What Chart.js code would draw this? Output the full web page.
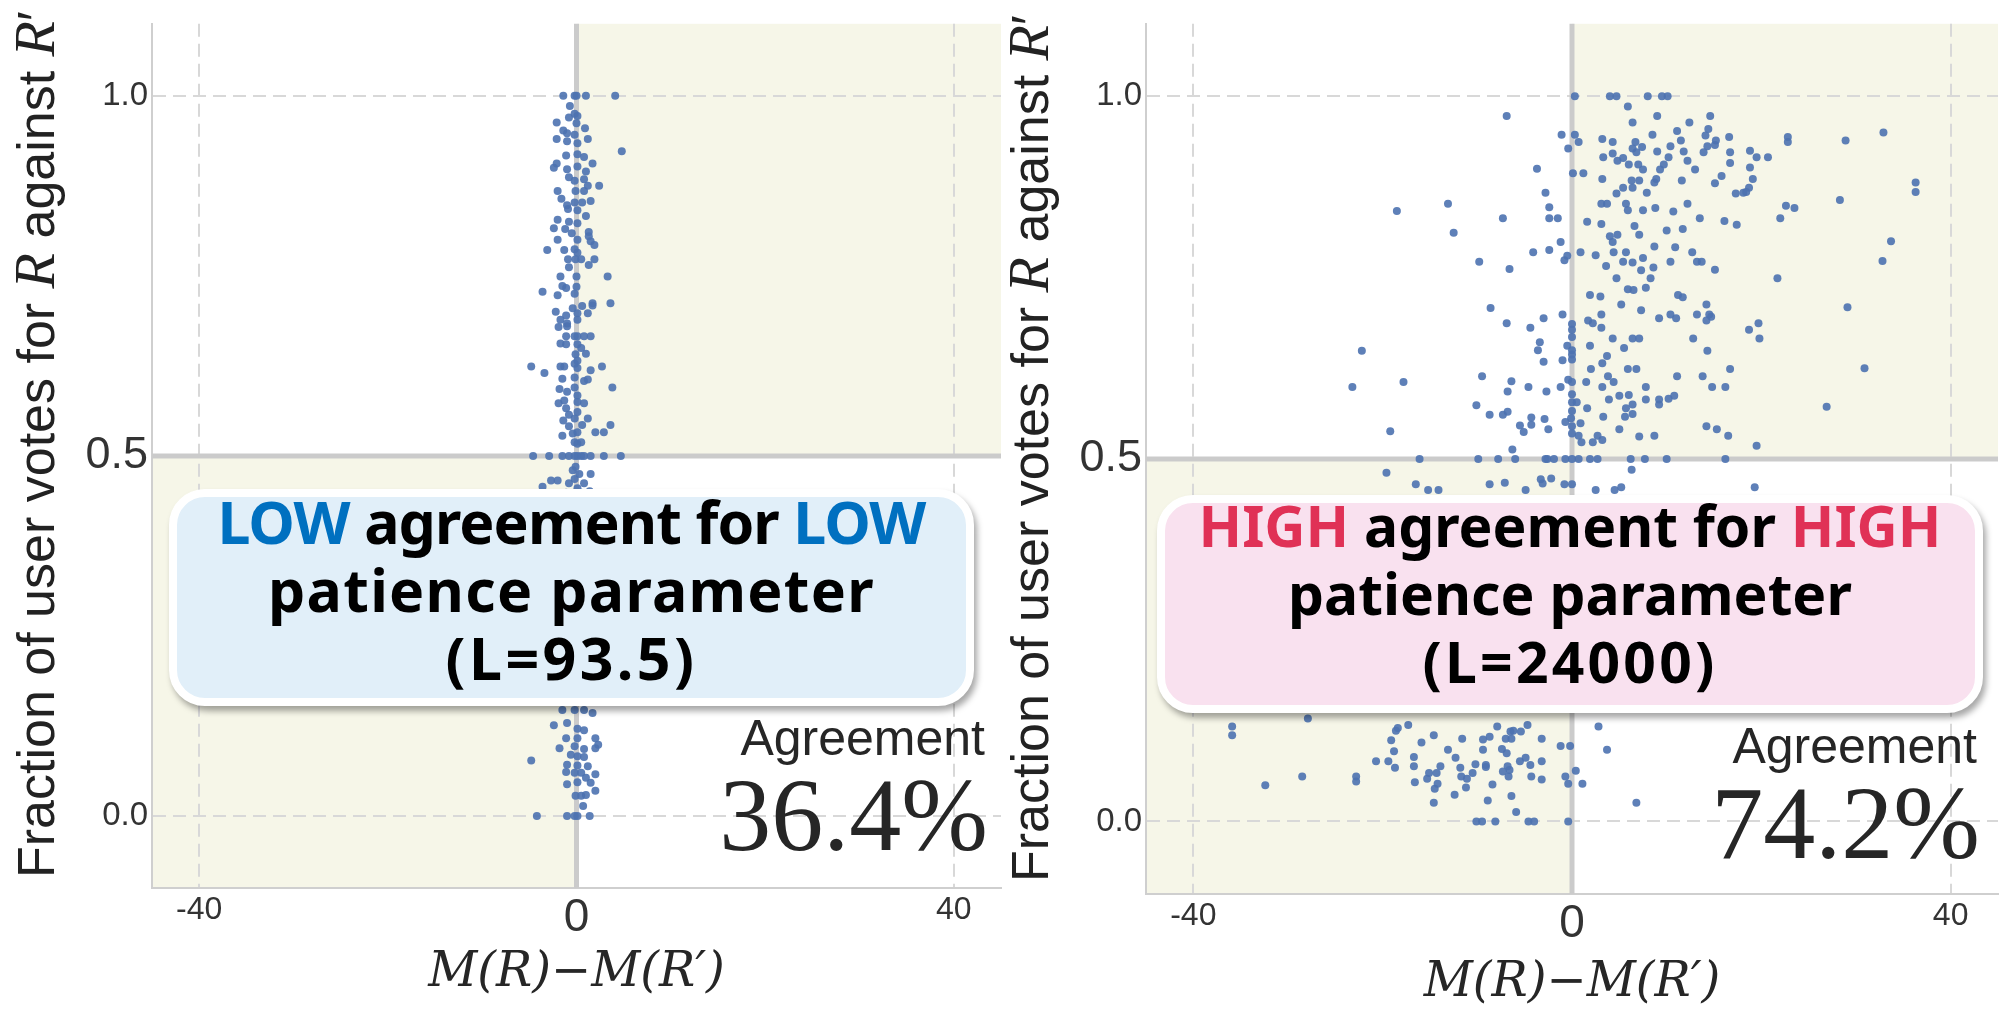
<!DOCTYPE html>
<html>
<head>
<meta charset="utf-8">
<script src="https://cdn.jsdelivr.net/npm/chart.js@4.4.0/dist/chart.umd.min.js"></script>
<style>
body { margin: 0; background: #fff; width: 2003px; height: 1012px; position: relative; overflow: hidden; }
canvas { position: absolute; top: 0; }
.ytitle { position: absolute; transform-origin: 0 0; transform: rotate(-90deg); white-space: nowrap;
          font: 52px/52px "Liberation Sans"; color: #222; }
.ytitle i { font-family: "Liberation Serif"; font-size: 58px; }
.box { position: absolute; box-sizing: border-box; border: 8px solid #fff; border-radius: 36px;
       box-shadow: 3px 5px 6px rgba(0,0,0,.35); }
.boxtext { position: absolute; text-align: center; font: 700 57px/68px "Noto Sans"; color: #000; }
.agree { position: absolute; width: 300px; text-align: right; font: 50px/50px "Liberation Sans"; color: #262626; }
.pct { position: absolute; width: 400px; text-align: right; font: 104px/104px "Liberation Serif"; color: #262626; }
</style>
</head>
<body>
<canvas id="lowChart" width="1005" height="1012" style="left:0px"></canvas>
<canvas id="highChart" width="998" height="1012" style="left:1005px"></canvas>

<div class="ytitle" style="left:9px; top:878px">Fraction of user votes for <i>R</i> against <i>R</i>&prime;</div>
<div class="ytitle" style="left:1003px; top:882px">Fraction of user votes for <i>R</i> against <i>R</i>&prime;</div>

<div class="box" style="left:169px; top:489px; width:805px; height:217px; background:#e1eff9"></div>
<div class="boxtext" style="left:169px; top:487px; width:805px; font-size:59px">
  <span style="letter-spacing:-0.9px"><span style="color:#0070c0">LOW</span> agreement for <span style="color:#0070c0">LOW</span></span><br>
  <span style="letter-spacing:1.3px">patience parameter</span><br>
  <span id="lowL" style="letter-spacing:3.4px"></span>
</div>
<div class="box" style="left:1157px; top:495px; width:826px; height:218px; background:#f9e1ef"></div>
<div class="boxtext" style="left:1157px; top:491px; width:826px">
  <span style="color:#e03156">HIGH</span> agreement for <span style="color:#e03156">HIGH</span><br>
  patience parameter<br>
  <span id="highL" style="letter-spacing:3.2px"></span>
</div>

<div class="agree" style="left:685px; top:713px">Agreement</div>
<div class="pct" id="lowPct" style="left:588px; top:763px"></div>
<div class="agree" style="left:1677px; top:721px">Agreement</div>
<div class="pct" id="highPct" style="left:1580px; top:771px"></div>

<script>
// tick positions shared by both panels
var xTicks = [-40, 0, 40];
var yTicks = [0, 0.5, 1.0];

// patience parameter and agreement of each panel
var lowParam = 93.5, lowAgreement = 36.4;
var highParam = 24000, highAgreement = 74.2;

// [M(R)-M(R'), fraction of votes for R] , L = 93.5
var lowPoints = [
  [-1.4,1],[-0.2,1],[0,1],[1,1],[4.1,1],[-0.7,.986],[-0.8,.97],[-0.2,.975],[0.1,.972],
  [-2.1,.963],[0,.962],[-1.4,.952],[0.9,.955],[-1.0,.948],[-0.2,.946],[-2.1,.94],[-1.0,.937],[1.2,.94],[0.1,.934],
  [4.8,.923],[-1.1,.917],[0.1,.919],[0.8,.915],[1.7,.906],[-2.1,.906],[-2.4,.9],[-1.0,.898],[0.1,.902],[1.0,.895],
  [-0.8,.887],[-0.2,.882],[0.8,.884],[2.4,.875],[1.2,.875],[-2.0,.868],[-0.1,.868],[0.8,.868],
  [-1.6,.857],[-1.0,.848],[-0.2,.852],[0.6,.852],[1.5,.854],[-0.9,.843],[0.1,.841],[1.0,.833],
  [-2.0,.828],[-0.8,.825],[0.1,.823],[-2.4,.816],[-1.2,.815],[-0.5,.809],[1.3,.811],[1.3,.805],
  [-2.0,.8],[0.1,.8],[1.5,.798],[1.9,.793],[-3.1,.786],[-1.3,.786],[-0.2,.787],[0.1,.782],
  [-0.9,.773],[-0.1,.773],[0.5,.773],[1.3,.765],[1.9,.773],[-0.8,.762],[3.3,.749],[-1.7,.749],[0,.749],
  [-1.5,.736],[-1.1,.733],[0,.735],[-3.6,.728],[-2.0,.723],[-0.2,.725],[1.7,.712],[3.6,.712],[0.6,.708],[-0.4,.705],
  [-2.2,.7],[-1.1,.695],[0.1,.698],[1.2,.698],[1.7,.709],[-1.7,.689],[-1.0,.684],[0.1,.689],[-1.9,.679],[-1.0,.68],
  [-1.1,.666],[-0.2,.666],[0.1,.666],[0.8,.666],[1.5,.666],[-1.7,.656],[-1.1,.655],[0.1,.655],[0.5,.65],
  [-0.1,.641],[1.0,.642],[0.1,.632],[-0.2,.628],
  [-4.8,.624],[-3.4,.615],[-1.7,.624],[-1.3,.624],[0.1,.622],[1.5,.619],[2.7,.624],
  [-1.5,.607],[-0.2,.609],[0.8,.604],[1.2,.606],[-1.8,.593],[-0.2,.595],[3.8,.595],[0.1,.584],[-1.0,.589],
  [-1.9,.573],[-1.3,.577],[0.1,.575],[0.8,.573],[-1.1,.566],[0.1,.561],[-0.8,.557],
  [-0.2,.552],[1.2,.552],[-1.4,.549],[-0.8,.541],[0.6,.543],[3.6,.543],
  [-1.5,.528],[-0.4,.531],[0.1,.533],[2.0,.533],[2.9,.533],[0.1,.517],[-0.2,.519],[0.5,.519],
  [-4.6,.5],[-2.9,.5],[-1.5,.5],[-0.8,.5],[-0.2,.5],[0.1,.5],[0.5,.5],[0.8,.5],[1.5,.5],[2.9,.5],[4.7,.5],
  [-0.1,.485],[-0.4,.48],[-2.7,.466],[-2.0,.466],[0.3,.475],[1.5,.475],[-0.2,.468],
  [-3.6,.457],[-0.8,.462],[0.1,.455],[0.8,.462],[-1.1,.449],[0.5,.449],[1.4,.451],
  [-1.5,.147],[-0.2,.147],[0.8,.147],[1.7,.143],[-2.4,.126],[-1.0,.129],[0.1,.121],[0.8,.119],
  [-1.1,.108],[0.1,.108],[2.0,.108],[2.3,.099],[-1.8,.094],[-0.2,.097],[0.8,.093],
  [-0.6,.085],[0.1,.083],[0.8,.082],[2.0,.094],[-4.8,.077],[-1.0,.071],[0.1,.070],[1.2,.069],[2.0,.058],
  [-1.1,.061],[-0.2,.060],[0.5,.060],[1.0,.053],[1.5,.046],[-1.0,.044],[0.1,.047],[2.0,.035],
  [-0.1,.028],[0.5,.028],[1.0,.029],[0.7,.014],[-4.2,0],[-1.0,0],[-0.2,0],[0.1,0],[1.4,0]
];

// same, L = 24000
var highPoints = [
  [0.3,1],[4.0,1],[4.7,1],[8.0,1],[9.5,1],[10.1,1],[5.9,.986],[-6.9,.973],[9.0,.973],[14.6,.973],[6.4,.964],[12.4,.964],
  [11.1,.952],[14.4,.955],[8.5,.947],[-1.1,.947],[0.3,.947],[16.6,.944],[22.8,.944],[14.1,.946],[3.2,.941],[4.3,.937],
  [0.7,.937],[6.7,.937],[11.5,.939],[15.2,.939],[22.8,.937],
  [-0.4,.928],[6.4,.928],[7.4,.93],[10.4,.931],[14.3,.931],[15.1,.933],[9.0,.924],[11.8,.924],[13.9,.923],[16.7,.923],
  [18.8,.925],[4.3,.921],[6.8,.923],[5.4,.915],[3.3,.916],[10.2,.916],[19.5,.916],[20.7,.916],[4.8,.911],[12.2,.911],
  [6.0,.906],[7.0,.906],[9.7,.906],[16.7,.908],[18.8,.902],[7.5,.899],[9.3,.899],[13.0,.899],[-3.7,.9],[0.1,.894],[1.2,.894],
  [3.2,.886],[6.3,.884],[7.1,.884],[8.9,.886],[11.6,.884],[15.8,.89],[19.1,.886],[15.1,.88],[5.4,.874],[6.4,.874],[8.7,.881],[18.7,.874],
  [-2.8,.867],[4.7,.866],[7.9,.867],[17.3,.866],[18.1,.867],[18.4,.868],
  [-13.1,.852],[3.1,.852],[3.7,.852],[5.7,.852],[12.2,.852],[-2.4,.847],[5.9,.843],[7.5,.843],[8.8,.846],[10.7,.841],
  [22.6,.849],[23.5,.846],[-18.5,.842],
  [-7.3,.832],[-2.4,.832],[-1.5,.832],[1.6,.827],[3.1,.824],[13.5,.832],[16.1,.828],[17.4,.823],[22.0,.832],[6.6,.821],[11.7,.817],
  [-12.5,.812],[4.0,.807],[4.8,.809],[7.1,.809],[10.0,.815],[4.3,.799],[-1.2,.799],
  [8.7,.793],[10.9,.792],[-4.1,.785],[-2.4,.788],[0.9,.785],[2.5,.781],[4.4,.785],[5.7,.785],[12.7,.785],
  [-9.8,.772],[-6.6,.762],[-0.8,.774],[-0.5,.78],[3.6,.766],[5.4,.772],[6.4,.771],[7.5,.777],[10.4,.772],[13.2,.772],
  [13.7,.772],[15.1,.761],[7.3,.76],[8.6,.764],
  [4.7,.749],[8.3,.749],[21.7,.749],[5.9,.734],[6.5,.733],[7.8,.736],
  [1.9,.726],[3.0,.724],[11.2,.726],[11.7,.723],[5.2,.713],[14.2,.713],[-8.6,.708],[7.3,.705],[9.2,.694],[10.4,.699],
  [11.0,.694],[13.2,.699],[14.5,.699],[14.7,.696],
  [-1.0,.699],[-3.0,.694],[-6.9,.687],[0,.686],[1.7,.691],[2.2,.687],[3.1,.699],[3.1,.681],[-4.4,.681],[14.2,.691],[18.7,.678],[19.7,.687],
  [0,.678],[0,.668],[-3.4,.661],[-0.5,.656],[1.9,.656],[4.3,.666],[6.4,.666],[7.1,.666],[12.8,.666],[19.8,.666],
  [-3.6,.65],[0,.65],[5.5,.653],[14.3,.649],
  [-22.2,.649],[-3.0,.634],[-1.0,.636],[0,.644],[0,.637],[3.2,.632],[3.7,.642],[2.0,.624],[5.9,.624],[6.8,.624],[16.7,.624],
  [-9.5,.614],[11.1,.614],[13.8,.614],[3.8,.614],
  [-17.8,.606],[-23.2,.599],[-6.4,.607],[-0.4,.609],[0,.606],[1.5,.606],[4.4,.606],[-1.2,.599],[-4.6,.599],[3.2,.599],
  [7.8,.599],[14.8,.599],[16.2,.599],[-6.8,.593],[-2.7,.593],
  [0,.589],[3.9,.582],[5.0,.587],[6.0,.588],[7.8,.582],[9.2,.582],[10.2,.583],[10.8,.587],[0,.578],[0.5,.578],
  [6.4,.575],[5.7,.57],[1.6,.57],[9.2,.575],
  [-10.1,.574],[-8.7,.561],[-7.3,.561],[-6.8,.565],[0,.566],[3.3,.558],[-4.3,.557],[-2.9,.555],[-0.1,.556],[-0.7,.551],
  [0.9,.549],[5.6,.558],[6.4,.562],[-5.5,.546],[-4.3,.547],[-2.5,.541],[0,.545],[5.0,.541],[14.2,.545],[15.3,.541],
  [16.5,.532],[-19.2,.538],[-5.1,.537],[0,.535],[0.7,.532],[7.1,.531],[8.7,.532],[2.7,.532],[2.2,.523],[3.2,.526],[1.0,.523],
  [-6.3,.513],[19.5,.518],[-16.1,.5],[-9.9,.5],[-7.8,.5],[-6.0,.5],[-2.8,.5],[-2.6,.5],[-1.9,.5],[-0.7,.5],[0,.5],
  [0.7,.5],[1.9,.5],[2.7,.5],[6.2,.5],[7.7,.5],[10.0,.5],[16.2,.5],
  [-19.6,.481],[6.3,.485],[-16.5,.465],[-15.2,.457],[-14.1,.457],[-8.7,.465],[-7.1,.467],[-4.9,.457],[-3.3,.472],
  [-2.2,.473],[-0.8,.465],[0,.465],[2.5,.457],[4.5,.457],[5.2,.461],[19.3,.461],[-3.1,.466],
  [28.9,.939],[32.9,.95],[36.3,.881],[36.3,.868],[28.3,.857],[33.7,.8],[32.8,.773],[29.1,.709],[30.9,.625],[26.9,.572],
  [-27.9,.142],[-35.9,.131],[-35.9,.119],[-18.6,.125],[-18.4,.129],[-17.3,.133],[-14.6,.119],[-15.9,.109],[-11.6,.114],
  [-9.4,.113],[-8.7,.117],[-7.9,.131],[-6.5,.124],[-6.2,.125],[-5.4,.124],[-4.7,.133],[-3.2,.114],[-7.0,.114],[-6.4,.114],
  [-1.2,.104],[-0.2,.104],[2.8,.131],[3.7,.099],
  [-19.1,.112],[-18.8,.097],[-20.7,.083],[-19.4,.083],[-18.7,.074],[-16.7,.089],[-16.7,.076],[-13.1,.099],[-12.3,.088],
  [-11.8,.074],[-10.2,.079],[-9.4,.099],[-9.1,.078],[-9.1,.075],[-7.4,.1],[-6.9,.094],[-5.5,.083],[-4.9,.088],[-4.4,.078],
  [-3.2,.083],[-6.8,.076],[-6.6,.071],
  [-32.4,.05],[-28.5,.062],[-22.8,.062],[-22.8,.055],[-15.3,.059],[-15.1,.067],[-14.3,.067],[-13.9,.076],[-16.6,.054],
  [-11.7,.062],[-11.1,.059],[-10.5,.067],[-8.4,.051],[-7.3,.069],[-6.7,.062],[-4.3,.062],[-3.2,.058],[-0.7,.062],
  [-0.4,.052],[0.4,.07],[1.1,.052],
  [-14.5,.045],[-14.2,.052],[-14.6,.026],[-12.4,.037],[-11.2,.047],[-8.9,.029],[-6.4,.035],[-5.9,.013],[6.8,.026],
  [-10.1,0],[-9.5,0],[-8.1,0],[-4.6,0],[-4.0,0],[-0.4,0]
];

var shadeColor = '#f6f6e8';
var axisLineColor = '#cbcbcb';
var gridColor = '#d8d8d8';
var dotColor = 'rgba(76, 114, 176, 0.9)';

document.getElementById('lowL').textContent = '(L=' + lowParam + ')';
document.getElementById('highL').textContent = '(L=' + highParam + ')';
document.getElementById('lowPct').textContent = lowAgreement.toFixed(1) + '%';
document.getElementById('highPct').textContent = highAgreement.toFixed(1) + '%';

// shaded quadrants under everything, thick 0 / 0.5 lines under the dots
var quadrants = {
    id: 'quadrants',
    beforeDraw: function(chart) {
        var a = chart.chartArea, ctx = chart.ctx;
        var x0 = chart.scales.x.getPixelForValue(0);
        var y0 = chart.scales.y.getPixelForValue(0.5);
        ctx.save();
        ctx.fillStyle = shadeColor;
        ctx.fillRect(x0, a.top, a.right - x0, y0 - a.top);
        ctx.fillRect(a.left, y0, x0 - a.left, a.bottom - y0);
        ctx.restore();
    },
    beforeDatasetsDraw: function(chart) {
        var a = chart.chartArea, ctx = chart.ctx;
        var x0 = chart.scales.x.getPixelForValue(0);
        var y0 = chart.scales.y.getPixelForValue(0.5);
        ctx.save();
        ctx.strokeStyle = axisLineColor;
        ctx.lineWidth = 5;
        ctx.beginPath();
        ctx.moveTo(x0, a.top); ctx.lineTo(x0, a.bottom);
        ctx.moveTo(a.left, y0); ctx.lineTo(a.right, y0);
        ctx.stroke();
        ctx.restore();
    }
};

function drawPanel(id, points, pad, yWidth, xHeight, titlePad) {
    var config = {
        type: 'scatter',
        data: {
            datasets: [{
                data: points.map(function(p) { return {x: p[0], y: p[1]}; }),
                backgroundColor: dotColor,
                borderWidth: 0,
                pointRadius: 4,
                pointHoverRadius: 4
            }]
        },
        options: {
            responsive: false,
            animation: false,
            events: [],
            layout: {padding: pad},
            plugins: {legend: {display: false}, tooltip: {enabled: false}},
            scales: {
                x: {
                    min: -45, max: 45,
                    afterBuildTicks: function(s) { s.ticks = xTicks.map(function(v) { return {value: v}; }); },
                    afterFit: function(s) { s.height = xHeight; },
                    grid: {
                        drawTicks: false, lineWidth: 2,
                        color: function(c) { return c.tick && c.tick.value === 0 ? 'rgba(0,0,0,0)' : gridColor; }
                    },
                    border: {display: true, color: '#cfcfcf', width: 2, dash: [13, 7]},
                    ticks: {
                        padding: 3, color: '#333',
                        font: function(c) { return {family: 'Liberation Sans', size: c.tick && c.tick.value === 0 ? 46 : 32}; },
                        callback: function(v) { return String(v); }
                    },
                    title: {
                        display: true, text: 'M(R)\u2212M(R\u2032)', color: '#262626',
                        font: {family: 'DejaVu Serif', style: 'italic', size: 48},
                        padding: {top: 0, bottom: titlePad}
                    }
                },
                y: {
                    min: -0.1, max: 1.1,
                    afterBuildTicks: function(s) { s.ticks = yTicks.map(function(v) { return {value: v}; }); },
                    afterFit: function(s) { s.width = yWidth; },
                    grid: {
                        drawTicks: false, lineWidth: 2,
                        color: function(c) { return c.tick && c.tick.value === 0.5 ? 'rgba(0,0,0,0)' : gridColor; }
                    },
                    border: {display: true, color: '#cfcfcf', width: 2, dash: [13, 7]},
                    ticks: {
                        padding: 4, color: '#333',
                        font: function(c) { return {family: 'Liberation Sans', size: c.tick && c.tick.value === 0.5 ? 45 : 33}; },
                        callback: function(v) { return v.toFixed(1); }
                    }
                }
            }
        },
        plugins: [quadrants]
    };
    var ctx = document.getElementById(id).getContext('2d');
    return new Chart(ctx, config);
}

drawPanel('lowChart', lowPoints, {top: 8, right: 0, left: 0, bottom: 0}, 152, 124, 10);
drawPanel('highChart', highPoints, {top: 14, right: 5, left: 0, bottom: 0}, 141, 118, 0);
</script>
</body>
</html>
